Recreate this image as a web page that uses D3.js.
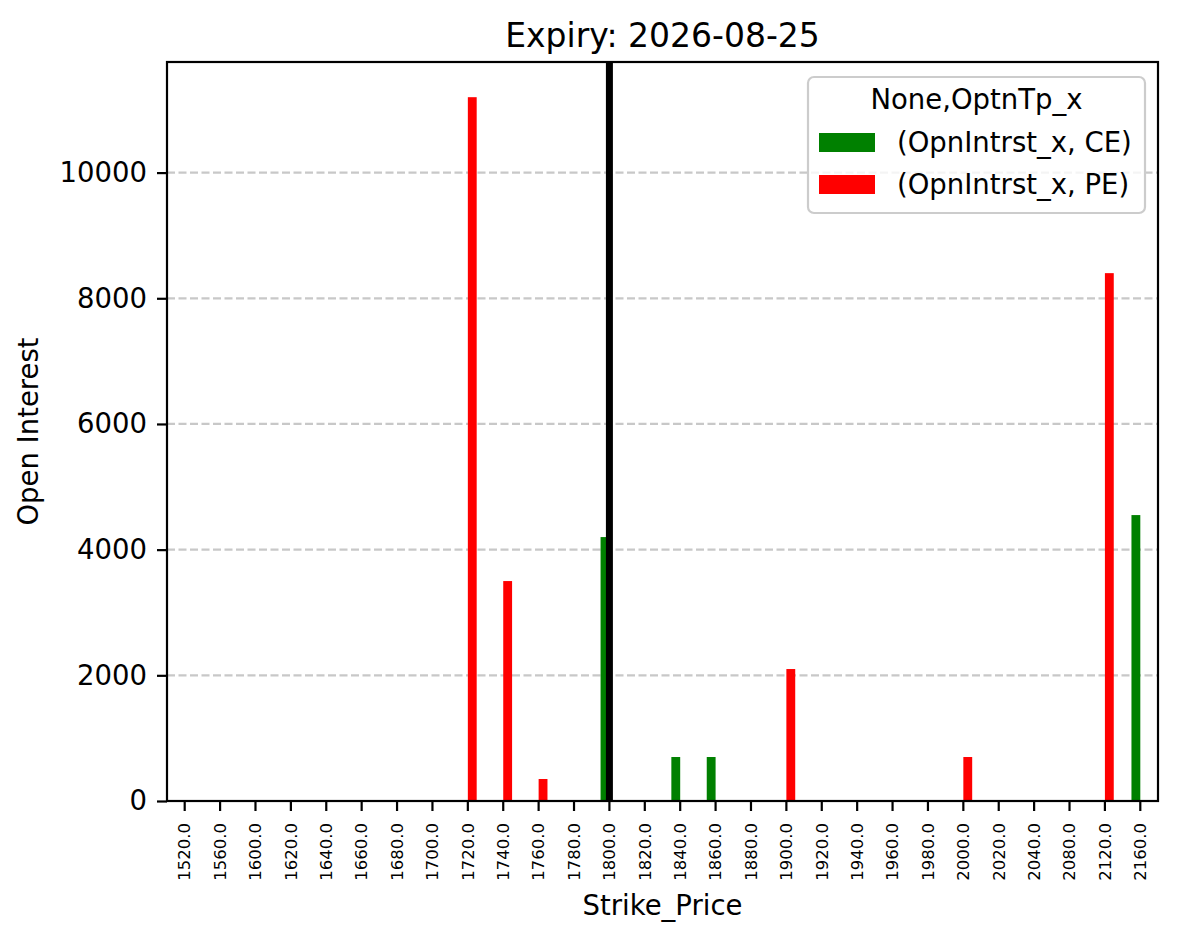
<!DOCTYPE html>
<html>
<head>
<meta charset="utf-8">
<script src="https://cdn.jsdelivr.net/npm/d3@7"></script>
<style>
  body { margin: 0; background: #fff; }
  svg { display: block; font-family: "DejaVu Sans", sans-serif; }
</style>
</head>
<body>
<div class="chart"></div>
<script>
const strikes = [1520, 1560, 1600, 1620, 1640, 1660, 1680, 1700, 1720, 1740, 1760, 1780, 1800, 1820,
                 1840, 1860, 1880, 1900, 1920, 1940, 1960, 1980, 2000, 2020, 2040, 2080, 2120, 2160];
const ceValues = [0, 0, 0, 0, 0, 0, 0, 0, 0, 0, 0, 0, 4200, 0,
                  700, 700, 0, 0, 0, 0, 0, 0, 0, 0, 0, 0, 0, 4550];
const peValues = [0, 0, 0, 0, 0, 0, 0, 0, 11200, 3500, 350, 0, 0, 0,
                  0, 0, 0, 2100, 0, 0, 0, 0, 700, 0, 0, 0, 8400, 0];
const yTicks = [0, 2000, 4000, 6000, 8000, 10000];
const markStrike = 1800;
const seriesNames = ['(OpnIntrst_x, CE)', '(OpnIntrst_x, PE)'];
const seriesColors = ['green', 'red'];

const width = 1179, height = 939;
const pLeft = 167, pRight = 1158, pTop = 62, pBottom = 801;
const font = '"DejaVu Sans", sans-serif';

const svg = d3.select('.chart')
  .append('svg')
  .attr('width', width)
  .attr('height', height);

const x = d3.scaleBand()
  .domain(strikes)
  .range([pLeft, pRight])
  .padding(0);

const yMax = d3.max(ceValues.concat(peValues)) * 1.05;
const y = d3.scaleLinear()
  .domain([0, yMax])
  .range([pBottom, pTop]);

const step = x.step();
const barW = step * 0.25;

// grid
svg.append('g')
  .selectAll('line')
  .data(yTicks.filter(d => d > 0))
  .enter()
  .append('line')
  .attr('x1', pLeft).attr('x2', pRight)
  .attr('y1', d => y(d)).attr('y2', d => y(d))
  .attr('stroke', '#b0b0b0')
  .attr('stroke-opacity', 0.7)
  .attr('stroke-width', 2.2)
  .attr('stroke-dasharray', '8,3.5');

// bars
const series = [ceValues, peValues];
series.forEach(function(vals, s) {
  svg.append('g')
    .selectAll('rect')
    .data(strikes.map((k, i) => ({k: k, v: vals[i]})).filter(d => d.v > 0))
    .enter()
    .append('rect')
    .attr('x', d => x(d.k) + step / 2 + (s === 0 ? -barW : 0))
    .attr('width', barW)
    .attr('y', d => y(d.v))
    .attr('height', d => y(0) - y(d.v))
    .attr('fill', seriesColors[s]);
});

// vertical marker line
svg.append('line')
  .attr('x1', x(markStrike) + step / 2).attr('x2', x(markStrike) + step / 2)
  .attr('y1', pTop).attr('y2', pBottom)
  .attr('stroke', 'black')
  .attr('stroke-width', 7);

// x axis
const xAxis = svg.append('g')
  .attr('transform', 'translate(0,' + pBottom + ')')
  .call(d3.axisBottom(x).tickSize(10).tickPadding(0).tickFormat(d => d.toFixed(1)))
  .attr('font-family', font);
xAxis.select('.domain').remove();
xAxis.selectAll('.tick line').attr('stroke-width', 2.2);
xAxis.selectAll('.tick text')
  .attr('font-size', 16.5)
  .attr('fill', 'black')
  .attr('transform', 'rotate(-90)')
  .attr('text-anchor', 'end')
  .attr('x', -22)
  .attr('y', 0)
  .attr('dy', '0.35em');

// y axis
const yAxis = svg.append('g')
  .attr('transform', 'translate(' + pLeft + ',0)')
  .call(d3.axisLeft(y).tickValues(yTicks).tickSize(10).tickPadding(10).tickFormat(d3.format('d')))
  .attr('font-family', font);
yAxis.select('.domain').remove();
yAxis.selectAll('.tick line').attr('stroke-width', 2.2);
yAxis.selectAll('.tick text').attr('font-size', 27.5).attr('fill', 'black');

// frame
svg.append('rect')
  .attr('x', pLeft).attr('y', pTop)
  .attr('width', pRight - pLeft).attr('height', pBottom - pTop)
  .attr('fill', 'none')
  .attr('stroke', 'black')
  .attr('stroke-width', 2.2);

// title and labels
svg.append('text')
  .attr('x', (pLeft + pRight) / 2).attr('y', 47)
  .attr('text-anchor', 'middle')
  .attr('font-size', 33)
  .text('Expiry: 2026-08-25');

svg.append('text')
  .attr('x', (pLeft + pRight) / 2).attr('y', 915)
  .attr('text-anchor', 'middle')
  .attr('font-size', 27.5)
  .text('Strike_Price');

svg.append('text')
  .attr('transform', 'translate(38,' + ((pTop + pBottom) / 2) + ') rotate(-90)')
  .attr('text-anchor', 'middle')
  .attr('font-size', 27.5)
  .text('Open Interest');

// legend
const legend = svg.append('g');
legend.append('rect')
  .attr('x', 808).attr('y', 77)
  .attr('width', 337).attr('height', 136)
  .attr('rx', 6)
  .attr('fill', 'white')
  .attr('fill-opacity', 0.8)
  .attr('stroke', '#cccccc')
  .attr('stroke-width', 2.2);
legend.append('text')
  .attr('x', 976.5).attr('y', 109)
  .attr('text-anchor', 'middle')
  .attr('font-size', 27.5)
  .text('None,OptnTp_x');

const item = legend.selectAll('.item')
  .data(seriesNames)
  .enter()
  .append('g')
  .attr('class', 'item')
  .attr('transform', (d, i) => 'translate(0,' + (i * 42) + ')');
item.append('rect')
  .attr('x', 819).attr('y', 133)
  .attr('width', 56).attr('height', 19)
  .attr('fill', (d, i) => seriesColors[i]);
item.append('text')
  .attr('x', 897).attr('y', 152)
  .attr('font-size', 27.5)
  .text(d => d);
</script>
</body>
</html>
